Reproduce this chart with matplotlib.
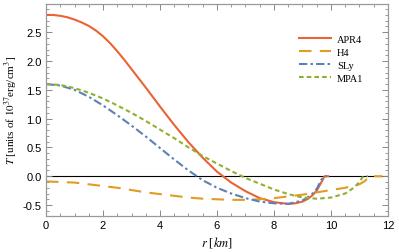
import numpy as np
import matplotlib
matplotlib.use('Agg')
from matplotlib import pyplot as plt
from matplotlib.ticker import MultipleLocator

# radius [km] and T [10^37 erg/cm^3]
r_apr4 = [0, 0.25, 0.5, 0.75, 1, 1.25, 1.5, 1.75, 2, 2.25, 2.5, 2.75, 3, 3.5,
          4, 4.5, 5, 5.5, 6, 6.5, 7, 7.5, 8, 8.5, 8.75, 9, 9.2, 9.35, 9.5,
          9.6, 9.7, 9.76, 9.8, 9.9]
t_apr4 = [2.8, 2.8, 2.785, 2.76, 2.72, 2.67, 2.61, 2.53, 2.43, 2.31, 2.17,
          2.02, 1.86, 1.54, 1.21, 0.89, 0.59, 0.32, 0.08, -0.11, -0.26, -0.38,
          -0.45, -0.48, -0.47, -0.44, -0.39, -0.33, -0.25, -0.16, -0.07, -0.01,
          0.0, 0.0]

r_h4 = [0, 0.5, 1, 1.5, 2, 2.5, 3, 3.5, 4, 4.5, 5, 5.5, 6, 6.5, 7, 7.5, 8,
        8.5, 9, 9.5, 10, 10.5, 11, 11.2, 11.35, 11.8]
t_h4 = [-0.09, -0.1, -0.11, -0.14, -0.17, -0.2, -0.24, -0.28, -0.31, -0.34,
        -0.37, -0.39, -0.4, -0.41, -0.41, -0.4, -0.38, -0.35, -0.32, -0.28,
        -0.24, -0.2, -0.14, -0.08, 0.0, 0.0]

r_sly = [0, 0.5, 1, 1.5, 2, 2.5, 3, 3.5, 4, 4.5, 5, 5.5, 6, 6.5, 7, 7.5, 8,
         8.5, 9, 9.3, 9.5, 9.65, 9.75, 9.85]
t_sly = [1.6, 1.575, 1.5, 1.38, 1.23, 1.06, 0.88, 0.69, 0.49, 0.29, 0.1, -0.07,
         -0.2, -0.3, -0.38, -0.44, -0.47, -0.48, -0.42, -0.33, -0.22, -0.07,
         0.0, 0.0]

r_mpa1 = [0, 0.5, 1, 1.5, 2, 2.5, 3, 3.5, 4, 4.5, 5, 5.5, 6, 6.5, 7, 7.5, 8,
          8.5, 9, 9.5, 10, 10.5, 10.8, 11, 11.1, 11.2, 11.3]
t_mpa1 = [1.6, 1.585, 1.53, 1.45, 1.35, 1.23, 1.1, 0.96, 0.81, 0.66, 0.5,
          0.35, 0.22, 0.09, -0.03, -0.13, -0.23, -0.31, -0.37, -0.39, -0.37,
          -0.3, -0.2, -0.1, -0.02, 0.0, 0.0]

plt.rcParams['mathtext.fontset'] = 'stix'

fig = plt.figure(figsize=(3.99, 2.53), dpi=100)
ax = fig.add_axes([0.1153, 0.1435, 0.8571, 0.8367])

ax.axhline(0, color='black', lw=0.8, zorder=1)
ax.plot(r_apr4, t_apr4, color='#EB6235', lw=1.5, label='APR4')
ax.plot(r_h4, t_h4, color='#E19C24', lw=1.5, dashes=(6, 4), label='H4')
ax.plot(r_sly, t_sly, color='#5E81B5', lw=1.5, dashes=(4, 1.5, 1.2, 1.5), label='SLy')
ax.plot(r_mpa1, t_mpa1, color='#8FB032', lw=1.5, dashes=(2.2, 1.5), label='MPA1')

ax.set_xlim(0, 12)
ax.set_ylim(-0.685, 2.99)
ax.xaxis.set_major_locator(MultipleLocator(2))
ax.xaxis.set_minor_locator(MultipleLocator(0.5))
ax.yaxis.set_major_locator(MultipleLocator(0.5))
ax.yaxis.set_minor_locator(MultipleLocator(0.1))
ax.yaxis.set_major_formatter(matplotlib.ticker.FormatStrFormatter('%.1f'))

for s in ax.spines.values():
    s.set_color('#999999')
    s.set_linewidth(0.9)
ax.tick_params(which='both', direction='in', top=True, right=True,
               color='#888888', labelsize=8, pad=3)
ax.tick_params(which='major', length=4, width=0.7)
ax.tick_params(which='minor', length=2, width=0.6)
for lab in ax.get_xticklabels() + ax.get_yticklabels():
    lab.set_family('Liberation Sans')

ax.set_xlabel(r'$r$ [$km$]', family='Liberation Serif', fontsize=9, labelpad=3)
ax.set_ylabel(r'$T$ [units of $10^{37}$erg/cm$^3$]', family='Liberation Serif',
              fontsize=8, labelpad=2)

leg = ax.legend(loc='upper right', bbox_to_anchor=(0.955, 0.9), frameon=False,
                prop={'family': 'Liberation Serif', 'size': 7.5},
                handlelength=3.0, handletextpad=0.6, labelspacing=0.35)

fig.savefig('out.png', dpi=100)
